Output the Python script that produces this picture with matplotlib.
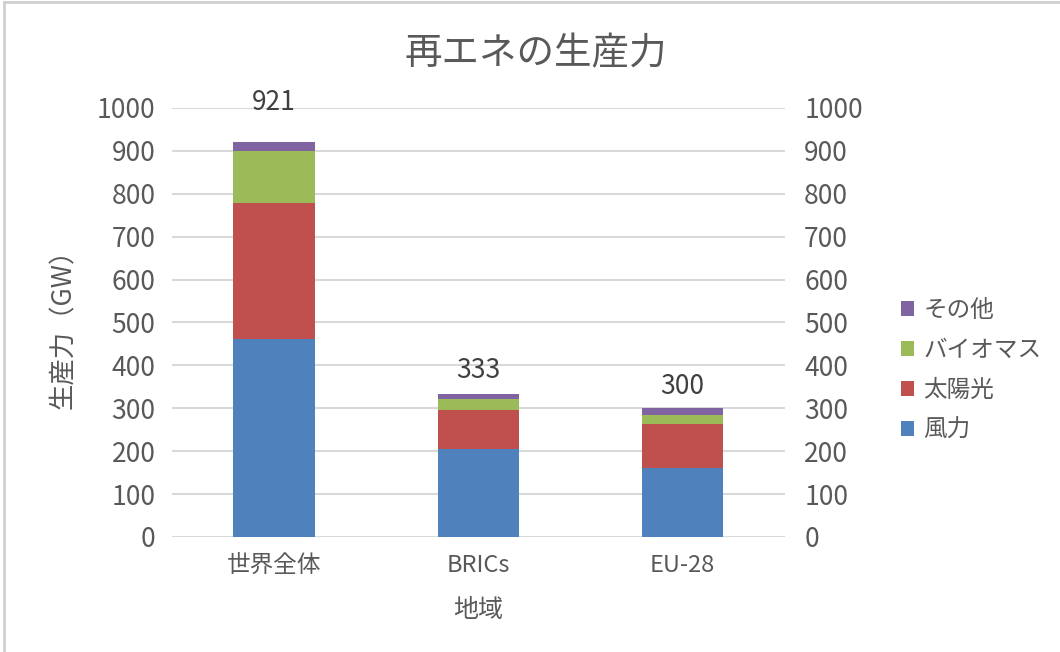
import numpy as np
import matplotlib.pyplot as plt
from matplotlib.lines import Line2D

plt.rcParams['font.family'] = ['Noto Sans CJK JP', 'DejaVu Sans']

# data
regions = ['世界全体', 'BRICs', 'EU-28']
wind = [461, 205, 160]
solar = [318, 90, 104]
biomass = [121, 26, 21]
other = [21, 12, 15]
totals = [921, 333, 300]

series = [('風力', wind, '#4F81BD'),
          ('太陽光', solar, '#C0504D'),
          ('バイオマス', biomass, '#9BBB59'),
          ('その他', other, '#8064A2')]

text_col = '#595959'
grid_col = '#D9D9D9'

fig = plt.figure(figsize=(10.6, 6.52), dpi=100)
ax = fig.add_axes([0.1623, 0.1764, 0.578, 0.658])

x = np.arange(len(regions))
bottom = np.zeros(len(regions))
for name, vals, col in series:
    ax.bar(x, vals, width=0.4, bottom=bottom, color=col, label=name, zorder=3)
    bottom += np.array(vals)

# total labels (Excel put them at slightly different heights)
label_off = [39, 24, 22]
for xi, t, off in zip(x, totals, label_off):
    ax.annotate(str(t), (xi, t), xytext=(0, off), textcoords='offset pixels',
                ha='center', va='center', fontsize=19, color='#404040')

ax.set_xlim(-0.5, 2.5)
ax.set_ylim(0, 1000)
ax.set_yticks(range(0, 1001, 100))
ax.set_xticks(x)
ax.set_xticklabels(regions)
ax.grid(axis='y', color=grid_col, linewidth=1.5, zorder=0)
ax.tick_params(axis='y', length=0, labelsize=19, colors=text_col, pad=12)
ax.tick_params(axis='x', length=0, labelsize=17, colors=text_col, pad=12)
for s in ax.spines.values():
    s.set_visible(False)

ax2 = ax.twinx()
ax2.set_ylim(0, 1000)
ax2.set_yticks(range(0, 1001, 100))
ax2.tick_params(length=0, labelsize=19, colors=text_col, pad=14)
for s in ax2.spines.values():
    s.set_visible(False)

fig.text(0.505, 0.918, '再エネの生産力', fontsize=27, color=text_col,
         ha='center', va='center')
ax.set_ylabel('生産力（GW）', fontsize=19, color=text_col, labelpad=14)
ax.set_xlabel('地域', fontsize=18, color=text_col, labelpad=15)

handles, labels = ax.get_legend_handles_labels()
leg = fig.legend(handles[::-1], labels[::-1], loc='center left',
                 bbox_to_anchor=(0.83, 0.432), frameon=False, fontsize=17,
                 handlelength=0.55, handleheight=0.55, handletextpad=0.4,
                 labelspacing=0.72, labelcolor=text_col)

# chart border
fig.add_artist(Line2D([0.004, 1], [0.997, 0.997], color='#D0D0D0', lw=2))
fig.add_artist(Line2D([0.004, 0.004], [0, 0.997], color='#D0D0D0', lw=2))

fig.savefig('out.png', dpi=100)
